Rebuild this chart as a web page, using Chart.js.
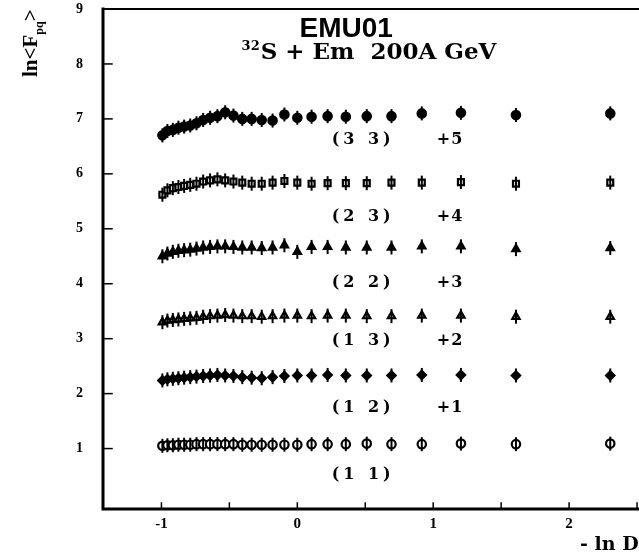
<!DOCTYPE html>
<html>
<head>
<meta charset="utf-8">
<script src="https://cdn.jsdelivr.net/npm/chart.js@4.4.1/dist/chart.umd.min.js"></script>
<style>
  html, body { margin: 0; padding: 0; background: #fff; overflow: hidden; }
  #wrap { width: 680px; height: 552px; }
</style>
</head>
<body>
<div id="wrap"><canvas id="emu"></canvas></div>
<script>
// -ln D values (shared by all six curves)
const xD = [-0.993, -0.956, -0.916, -0.875, -0.833, -0.788, -0.742, -0.693, -0.642, -0.588,
  -0.531, -0.470, -0.405, -0.336, -0.262, -0.182, -0.095, 0.000, 0.105, 0.223,
  0.357, 0.511, 0.693, 0.916, 1.204, 1.609, 2.303];

// ln<F_pq>, already shifted by the offset written next to each curve
const y11 = [1.05, 1.06, 1.06, 1.07, 1.07, 1.07, 1.08, 1.08, 1.08, 1.08, 1.08, 1.08, 1.07, 1.07,
  1.07, 1.07, 1.07, 1.07, 1.08, 1.08, 1.08, 1.09, 1.08, 1.08, 1.09, 1.08, 1.09];
const y12 = [2.24, 2.26, 2.27, 2.28, 2.29, 2.30, 2.31, 2.32, 2.33, 2.34, 2.33, 2.32, 2.30, 2.29,
  2.28, 2.30, 2.32, 2.33, 2.33, 2.34, 2.33, 2.33, 2.33, 2.34, 2.34, 2.33, 2.33];
const y13 = [3.30, 3.33, 3.34, 3.35, 3.36, 3.37, 3.38, 3.40, 3.41, 3.42, 3.43, 3.42, 3.41, 3.41,
  3.40, 3.41, 3.42, 3.42, 3.41, 3.42, 3.42, 3.41, 3.41, 3.42, 3.42, 3.40, 3.40];
const y22 = [4.50, 4.55, 4.58, 4.60, 4.61, 4.62, 4.64, 4.66, 4.67, 4.68, 4.68, 4.67, 4.66, 4.66,
  4.65, 4.66, 4.70, 4.58, 4.67, 4.67, 4.66, 4.66, 4.66, 4.68, 4.68, 4.63, 4.65];
const y23 = [5.62, 5.70, 5.74, 5.76, 5.78, 5.80, 5.82, 5.86, 5.88, 5.90, 5.88, 5.86, 5.84, 5.82,
  5.82, 5.84, 5.87, 5.84, 5.82, 5.83, 5.83, 5.83, 5.84, 5.84, 5.85, 5.82, 5.84];
const y33 = [6.70, 6.78, 6.80, 6.84, 6.86, 6.88, 6.92, 6.98, 7.02, 7.05, 7.12, 7.06, 7.00, 7.00,
  6.98, 6.97, 7.08, 7.02, 7.04, 7.05, 7.04, 7.05, 7.05, 7.10, 7.11, 7.07, 7.10];

const rowNames = ["(1 1)", "(1 2)", "(1 3)", "(2 2)", "(2 3)", "(3 3)"];
const rowShifts = ["", "+1", "+2", "+3", "+4", "+5"];
const labelY = [0.52, 1.74, 2.96, 4.01, 5.21, 6.62];

const yTicks = [1, 2, 3, 4, 5, 6, 7, 8, 9];
const xTicks = [-1, -0.5, 0, 0.5, 1, 1.5, 2, 2.5];

const serif = "'Liberation Serif', 'DejaVu Serif', serif";
const wide = "'DejaVu Serif', serif";

function pts(ys) {
  return xD.map((x, i) => ({ x: x, y: ys[i] }));
}

// pointStyle, filled?
const styles = [
  [y11, "circle", false],
  [y12, "rectRot", true],
  [y13, "triangle", false],
  [y22, "triangle", true],
  [y23, "rect", false],
  [y33, "circle", true]
];

const datasets = [];
styles.forEach(s => {
  datasets.push({
    data: pts(s[0]),
    pointStyle: "line",
    rotation: 90,
    radius: 7,
    borderColor: "#000",
    borderWidth: 2,
    showLine: false
  });
  datasets.push({
    data: pts(s[0]),
    pointStyle: s[1],
    radius: 4.2,
    backgroundColor: s[2] ? "#000" : "#fff",
    borderColor: "#000",
    borderWidth: 2.2,
    showLine: false
  });
});

// draws text with extra gap between letters
function spaced(ctx, txt, cx, cy, gap) {
  const chars = txt.split("");
  let total = 0;
  chars.forEach(c => { total += ctx.measureText(c).width; });
  total += gap * (chars.length - 1);
  let x = cx - total / 2;
  ctx.textAlign = "left";
  chars.forEach(c => {
    ctx.fillText(c, x, cy);
    x += ctx.measureText(c).width + gap;
  });
}

const decor = {
  id: "decor",
  afterDraw(chart) {
    const { ctx, chartArea: a, scales } = chart;
    const xs = scales.x, ys = scales.y;
    ctx.save();
    ctx.strokeStyle = "#000";
    ctx.lineCap = "square";
    // frame
    ctx.lineWidth = 3;
    ctx.beginPath();
    ctx.moveTo(a.left, a.top);
    ctx.lineTo(a.left, a.bottom);
    ctx.lineTo(a.right, a.bottom);
    ctx.stroke();
    ctx.lineWidth = 2;
    ctx.beginPath();
    ctx.moveTo(a.left, a.top);
    ctx.lineTo(a.right, a.top);
    ctx.stroke();
    // inward ticks
    ctx.lineWidth = 1.5;
    yTicks.forEach(v => {
      const p = ys.getPixelForValue(v);
      ctx.beginPath();
      ctx.moveTo(a.left, p);
      ctx.lineTo(a.left + 9, p);
      ctx.stroke();
    });
    xTicks.forEach(v => {
      const p = xs.getPixelForValue(v);
      ctx.beginPath();
      ctx.moveTo(p, a.bottom);
      ctx.lineTo(p, a.bottom - 6);
      ctx.stroke();
    });

    ctx.fillStyle = "#000";
    // titles
    ctx.textAlign = "center";
    ctx.textBaseline = "alphabetic";
    ctx.font = "bold 28px 'Liberation Sans', Arial, sans-serif";
    ctx.fillText("EMU01", xs.getPixelForValue(0.36), 37);

    const subX = xs.getPixelForValue(-0.41);
    ctx.textAlign = "left";
    ctx.font = "bold 13px " + wide;
    ctx.fillText("32", subX, 50);
    let w = ctx.measureText("32").width;
    ctx.font = "bold 23px " + wide;
    ctx.fillText("S + Em  200A GeV", subX + w + 1, 59);

    // curve labels
    ctx.font = "bold 16px " + wide;
    ctx.textBaseline = "middle";
    rowNames.forEach((n, i) => {
      const py = ys.getPixelForValue(labelY[i]);
      spaced(ctx, n, xs.getPixelForValue(0.47), py, 4);
      if (rowShifts[i]) spaced(ctx, rowShifts[i], xs.getPixelForValue(1.12), py, 1);
    });

    // x title
    ctx.textAlign = "left";
    ctx.textBaseline = "alphabetic";
    ctx.font = "bold 19px " + wide;
    ctx.fillText("- ln D", 580, 550);

    // y title, rotated
    ctx.translate(37, 77);
    ctx.rotate(-Math.PI / 2);
    ctx.font = "bold 21px " + serif;
    ctx.fillText("ln<F", 0, 0);
    w = ctx.measureText("ln<F").width;
    ctx.font = "bold 12px " + serif;
    ctx.fillText("pq", w, 6);
    const w2 = ctx.measureText("pq").width;
    ctx.font = "bold 21px " + serif;
    ctx.fillText(">", w + w2, 0);
    ctx.restore();
  }
};

new Chart(document.getElementById("emu"), {
  type: "scatter",
  data: { datasets: datasets },
  options: {
    responsive: true,
    maintainAspectRatio: false,
    animation: false,
    layout: { padding: { top: 3, right: 0, left: 0, bottom: 0 } },
    plugins: {
      legend: { display: false },
      tooltip: { enabled: false },
      title: { display: false }
    },
    scales: {
      x: {
        type: "linear",
        min: -1.43,
        max: 2.75,
        grid: { display: false, drawTicks: false },
        border: { display: false },
        afterBuildTicks: s => { s.ticks = xTicks.map(v => ({ value: v })); },
        afterFit: s => { s.height = 43; s.paddingLeft = 0; s.paddingRight = 0; },
        ticks: {
          padding: 6,
          color: "#000",
          font: { family: serif, weight: "bold", size: 15 },
          callback: v => (Number.isInteger(v) ? String(v) : "")
        }
      },
      y: {
        type: "linear",
        min: -0.1,
        max: 9,
        grid: { display: false, drawTicks: false },
        border: { display: false },
        afterBuildTicks: s => { s.ticks = yTicks.map(v => ({ value: v })); },
        afterFit: s => { s.width = 103; s.paddingTop = 0; s.paddingBottom = 0; },
        ticks: {
          padding: 20,
          color: "#000",
          font: { family: serif, weight: "bold", size: 14 }
        }
      }
    }
  },
  plugins: [decor]
});
</script>
</body>
</html>
